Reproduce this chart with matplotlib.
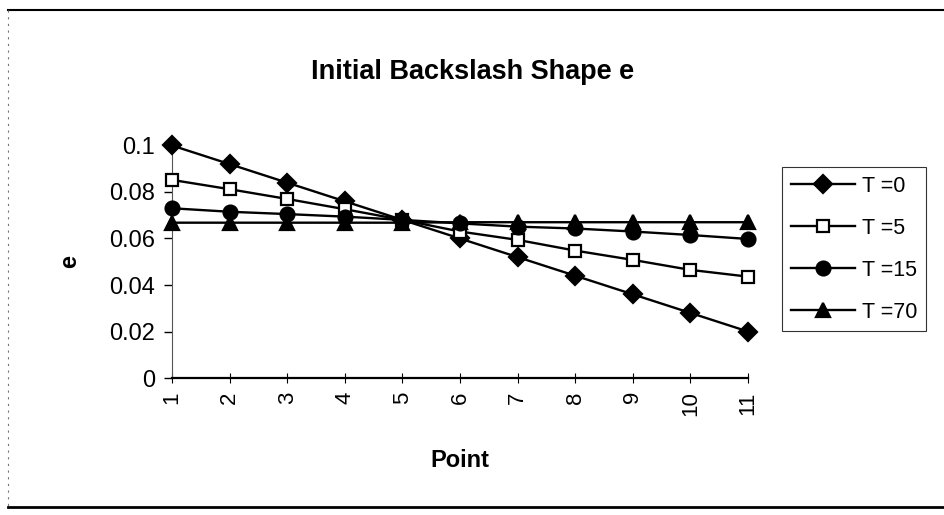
import matplotlib
matplotlib.use("Agg")
import matplotlib.pyplot as plt
from matplotlib.lines import Line2D

plt.rcParams['font.family'] = ['Liberation Sans', 'DejaVu Sans']

# data
points = [1, 2, 3, 4, 5, 6, 7, 8, 9, 10, 11]
t0 = [0.100, 0.092, 0.084, 0.076, 0.068, 0.060, 0.052, 0.044, 0.036, 0.028, 0.020]
t5 = [0.0852, 0.0812, 0.0770, 0.0726, 0.0680, 0.0630, 0.0594, 0.0548, 0.0508, 0.0465, 0.0436]
t15 = [0.0730, 0.0715, 0.0705, 0.0694, 0.0680, 0.0665, 0.0651, 0.0643, 0.0630, 0.0615, 0.0598]
t70 = [0.0668, 0.0668, 0.0668, 0.0668, 0.0668, 0.0670, 0.0670, 0.0670, 0.0670, 0.0670, 0.0670]
labels = ["T =0", "T =5", "T =15", "T =70"]
yticks = [0, 0.02, 0.04, 0.06, 0.08, 0.1]
ytick_labels = ["0", "0.02", "0.04", "0.06", "0.08", "0.1"]

fig = plt.figure(figsize=(9.45, 5.15), dpi=100)
ax = fig.add_axes([0.182, 0.266, 0.6095, 0.4515])

series = [
    (t0, "D", "black", 9),
    (t5, "s", "white", 8),
    (t15, "o", "black", 10),
    (t70, "^", "black", 10),
]
for (vals, mk, fc, ms), lab in zip(series, labels):
    ax.plot(points, vals, color="black", lw=1.7, marker=mk, markersize=ms,
            markerfacecolor=fc, markeredgecolor="black", markeredgewidth=1.6,
            label=lab, clip_on=False, zorder=3)

ax.set_xlim(1, 11)
ax.set_ylim(0, 0.1)
ax.set_xticks(points)
ax.set_xticklabels([str(p) for p in points], rotation=90, fontsize=16)
ax.set_yticks(yticks)
ax.set_yticklabels(ytick_labels, fontsize=17)
ax.tick_params(axis='y', direction='out', length=6, width=1, pad=6)
ax.tick_params(axis='x', direction='inout', length=7, width=0.8, pad=6)
for s in ["top", "right"]:
    ax.spines[s].set_visible(False)
ax.spines["left"].set_linewidth(0.8)
ax.spines["left"].set_color("#555555")
ax.spines["bottom"].set_linewidth(1.6)

ax.set_xlabel("Point", fontsize=17, fontweight="bold", labelpad=24)
ax.set_ylabel("e", fontsize=17, fontweight="bold", labelpad=20)
fig.text(0.5, 0.86, "Initial Backslash Shape e", ha="center", va="center",
         fontsize=19.5, fontweight="bold")

leg = ax.legend(loc="upper left", bbox_to_anchor=(0.8275, 0.675),
                bbox_transform=fig.transFigure, fontsize=15.5, frameon=True,
                fancybox=False, edgecolor="black", handlelength=3.0,
                handletextpad=0.3, labelspacing=0.97, borderpad=0.4,
                borderaxespad=0)
leg.get_frame().set_linewidth(0.8)

# outer chart border
fig.add_artist(Line2D([8/945, 1], [1 - 10/515, 1 - 10/515], color="black", lw=1.5,
                      transform=fig.transFigure))
fig.add_artist(Line2D([8/945, 1], [1 - 507/515, 1 - 507/515], color="black", lw=2,
                      transform=fig.transFigure))
fig.add_artist(Line2D([8/945, 8/945], [1 - 10/515, 1 - 507/515], color="#777777", lw=0.8,
                      ls=(0, (2, 4)), transform=fig.transFigure))

fig.savefig("out.png", dpi=100)
